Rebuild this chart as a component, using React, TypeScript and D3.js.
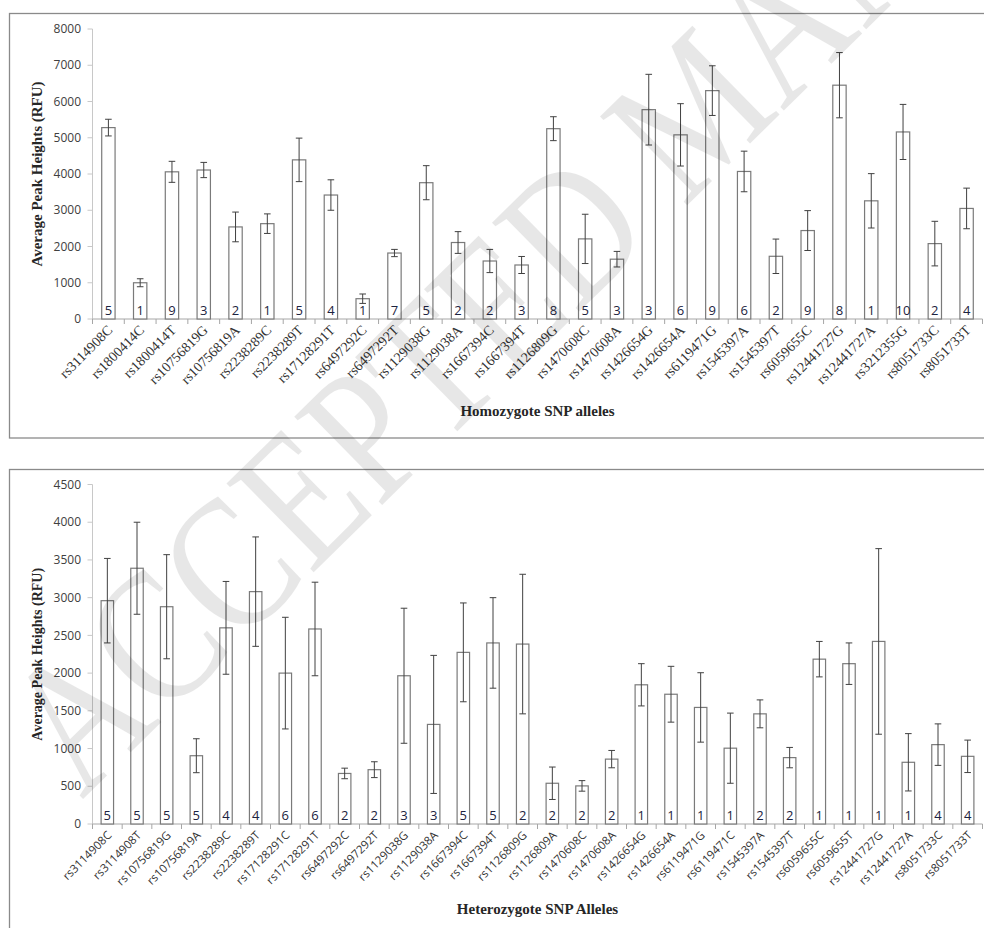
import React from "react";
import * as d3 from "d3";

const homoLabels = ["rs3114908C","rs1800414C","rs1800414T","rs10756819G","rs10756819A","rs2238289C","rs2238289T","rs17128291T","rs6497292C","rs6497292T","rs1129038G","rs1129038A","rs1667394C","rs1667394T","rs1126809G","rs1470608C","rs1470608A","rs1426654G","rs1426654A","rs6119471G","rs1545397A","rs1545397T","rs6059655C","rs12441727G","rs12441727A","rs3212355G","rs8051733C","rs8051733T"];
const homoMeans = [5280,1000,4060,4110,2540,2630,4390,3420,560,1820,3760,2110,1600,1490,5250,2210,1650,5775,5080,6300,4070,1730,2440,6450,3260,5160,2080,3050];
const homoErr = [230,110,290,210,410,270,600,420,130,100,470,300,320,235,330,680,215,975,860,685,560,475,550,900,750,760,615,560];
const homoN = [5,1,9,3,2,1,5,4,1,7,5,2,2,3,8,5,3,3,6,9,6,2,9,8,1,10,2,4];
const homoTicks = [0,1000,2000,3000,4000,5000,6000,7000,8000];

const heteroLabels = ["rs3114908C","rs3114908T","rs10756819G","rs10756819A","rs2238289C","rs2238289T","rs17128291C","rs17128291T","rs6497292C","rs6497292T","rs1129038G","rs1129038A","rs1667394C","rs1667394T","rs1126809G","rs1126809A","rs1470608C","rs1470608A","rs1426654G","rs1426654A","rs6119471G","rs6119471C","rs1545397A","rs1545397T","rs6059655C","rs6059655T","rs12441727G","rs12441727A","rs8051733C","rs8051733T"];
const heteroMeans = [2960,3390,2880,905,2600,3080,2000,2585,670,720,1965,1320,2275,2400,2385,540,505,860,1845,1720,1545,1005,1460,880,2185,2125,2420,818,1052,897];
const heteroErr = [560,610,690,225,615,725,740,620,70,105,895,915,655,600,925,215,70,115,280,370,460,465,185,135,235,275,1230,380,275,215];
const heteroN = [5,5,5,5,4,4,6,6,2,2,3,3,5,5,2,2,2,2,1,1,1,1,2,2,1,1,1,1,4,4];
const heteroTicks = [0,500,1000,1500,2000,2500,3000,3500,4000,4500];

const yTitle = "Average Peak Heights (RFU)";
const homoXTitle = "Homozygote SNP alleles";
const heteroXTitle = "Heterozygote SNP Alleles";
const watermark = "ACCEPTED MANUSCRIPT";

const SANS = "'Open Sans', 'Liberation Sans', sans-serif";
const SERIF = "'Liberation Serif', 'DejaVu Serif', serif";

type PanelProps = {
  labels: string[];
  means: number[];
  errs: number[];
  ns: number[];
  ticks: number[];
  yMax: number;
  yTop: number;
  yBottom: number;
  xTitle: string;
  xTitleY: number;
  labelFont: string;
  labelSize: number;
  yTitleSize: number;
};

function Panel(p: PanelProps) {
  const x = d3.scaleBand<string>().domain(p.labels).range([92.5, 982.5]).paddingInner(0.58).paddingOuter(0.29);
  const band = d3.scaleBand<string>().domain(p.labels).range([92.5, 982.5]);
  const y = d3.scaleLinear().domain([0, p.yMax]).range([p.yBottom, p.yTop]);
  const bw = x.bandwidth();
  const cap = 3.3;
  return (
    <g>
      <line x1={92.5} x2={92.5} y1={p.yTop} y2={p.yBottom} stroke="#c8c8c8" strokeWidth={1} />
      {p.ticks.map((t) => (
        <g key={t}>
          <line x1={87.5} x2={92.5} y1={y(t)} y2={y(t)} stroke="#c8c8c8" strokeWidth={1} />
          <text x={81} y={y(t)} dy="0.35em" textAnchor="end" fontFamily={SANS} fontSize={12} fill="#404040">{t}</text>
        </g>
      ))}
      <line x1={92.5} x2={982.5} y1={p.yBottom} y2={p.yBottom} stroke="#a6a6a6" strokeWidth={1} />
      {p.labels.map((l, i) => (
        <line key={"t" + i} x1={band(l)! + band.bandwidth()} x2={band(l)! + band.bandwidth()} y1={p.yBottom} y2={p.yBottom + 5} stroke="#a6a6a6" strokeWidth={1} />
      ))}
      <line x1={92.5} x2={92.5} y1={p.yBottom} y2={p.yBottom + 5} stroke="#a6a6a6" strokeWidth={1} />
      {p.labels.map((l, i) => {
        const x0 = x(l)!;
        const cx = x0 + bw / 2;
        const v = p.means[i];
        const e = p.errs[i];
        return (
          <g key={"b" + i}>
            <rect x={x0} y={y(v)} width={bw} height={p.yBottom - y(v)} fill="#fff" stroke="#7a7a7a" strokeWidth={1.2} />
            <line x1={cx} x2={cx} y1={y(v + e)} y2={y(v - e)} stroke="#404040" strokeWidth={1} />
            <line x1={cx - cap} x2={cx + cap} y1={y(v + e)} y2={y(v + e)} stroke="#404040" strokeWidth={1} />
            <line x1={cx - cap} x2={cx + cap} y1={y(v - e)} y2={y(v - e)} stroke="#404040" strokeWidth={1} />
            <text x={cx} y={p.yBottom - 4} textAnchor="middle" fontFamily={SANS} fontSize={13} fill="#1c2340">{p.ns[i]}</text>
          </g>
        );
      })}
      {p.labels.map((l, i) => {
        const cx = band(l)! + band.bandwidth() / 2;
        return (
          <text key={"l" + i} transform={`translate(${cx + 5},${p.yBottom + 12}) rotate(-45)`} textAnchor="end" fontFamily={p.labelFont} fontSize={p.labelSize} fill="#333">{l}</text>
        );
      })}
      <text transform={`translate(42,${(p.yTop + p.yBottom) / 2}) rotate(-90)`} textAnchor="middle" fontFamily={SERIF} fontWeight="bold" fontSize={p.yTitleSize} fill="#262626">{yTitle}</text>
      <text x={537.5} y={p.xTitleY} textAnchor="middle" fontFamily={SERIF} fontWeight="bold" fontSize={15} fill="#262626">{p.xTitle}</text>
    </g>
  );
}

export default function App() {
  return (
    <svg width={984} height={928} style={{ position: "absolute", left: 0, top: 0, background: "#fff" }}>
      <rect x={0} y={0} width={984} height={928} fill="#fff" />
      <rect x={9.5} y={13.5} width={1000} height={424.5} fill="none" stroke="#8a8a8a" strokeWidth={1.3} />
      <rect x={9.5} y={469.5} width={1000} height={480} fill="none" stroke="#8a8a8a" strokeWidth={1.3} />
      <Panel labels={homoLabels} means={homoMeans} errs={homoErr} ns={homoN} ticks={homoTicks} yMax={8000} yTop={29} yBottom={319}
        xTitle={homoXTitle} xTitleY={416} labelFont={SERIF} labelSize={14} yTitleSize={15} />
      <Panel labels={heteroLabels} means={heteroMeans} errs={heteroErr} ns={heteroN} ticks={heteroTicks} yMax={4500} yTop={484.5} yBottom={824}
        xTitle={heteroXTitle} xTitleY={914} labelFont={SANS} labelSize={11.5} yTitleSize={14} />
      <text transform="translate(82,800) rotate(-44.5) scale(0.82,1)" fontFamily={SERIF} fontSize={190} fill="#000" opacity={0.09}>{watermark}</text>
    </svg>
  );
}
